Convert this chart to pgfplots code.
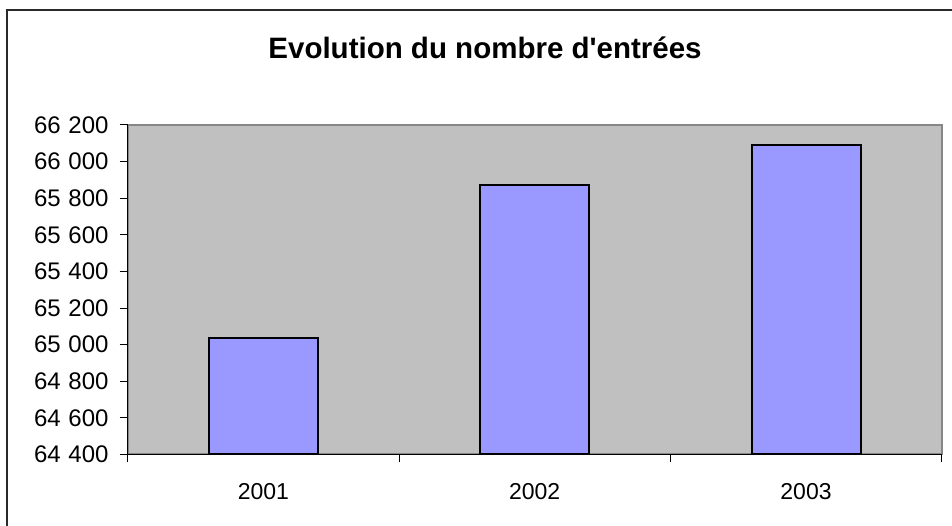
\documentclass[border=0pt]{standalone}
\usepackage{pgfplots}
\pgfplotsset{compat=1.18}
\usepackage{fontspec}
\setmainfont{Liberation Sans}
\definecolor{plotbg}{HTML}{C0C0C0}
\definecolor{barfill}{HTML}{9999FF}
\definecolor{framegray}{HTML}{868686}
\definecolor{outer}{HTML}{2A2A2A}
\begin{document}
\begin{tikzpicture}
\useasboundingbox (0pt,0pt) rectangle (952pt,526pt);
\draw[line width=2pt, color=outer] (7pt,0pt) -- (7pt,516pt) -- (952pt,516pt);
\node[anchor=base, inner sep=0pt, font=\fontsize{29.5}{34}\selectfont\bfseries] at (485pt,467.7pt) {Evolution du nombre d\textquotesingle entrées};
\begin{axis}[
  at={(127.7pt,71.5pt)}, anchor=south west,
  scale only axis, width=814pt, height=329.5pt,
  ybar, bar width=109pt, bar shift=0pt,
  xmin=-0.5, xmax=2.5, ymin=64400, ymax=66200,
  xtick={0,1,2}, xticklabels={2001,2002,2003},
  minor xtick={-0.5,0.5,1.5,2.5},
  ytick={64400,64600,64800,65000,65200,65400,65600,65800,66000,66200},
  yticklabel={\pgfmathprintnumber[fixed,precision=0,1000 sep={\hspace{0.32em}},assume math mode=true]{\tick}},
  scaled y ticks=false,
  axis lines*=left,
  axis line style={-, black, line width=1pt},
  axis background/.style={fill=plotbg, draw=framegray, line width=2pt},
  tick align=outside,
  major tick length=8pt,
  minor tick length=8pt,
  major x tick style={draw=none},
  minor x tick style={draw=black, line width=1pt},
  major y tick style={draw=black, line width=1pt},
  tick label style={font=\fontsize{23}{27}\selectfont},
  yticklabel style={anchor=east, inner sep=0pt, xshift=-11pt, font=\fontsize{24}{28}\selectfont},
  xticklabel style={anchor=north, inner sep=0pt, yshift=-21pt},
]
\addplot[fill=barfill, draw=black, line width=2pt] coordinates {(0,65036) (1,65873) (2,66091)};
\end{axis}
\end{tikzpicture}
\end{document}
